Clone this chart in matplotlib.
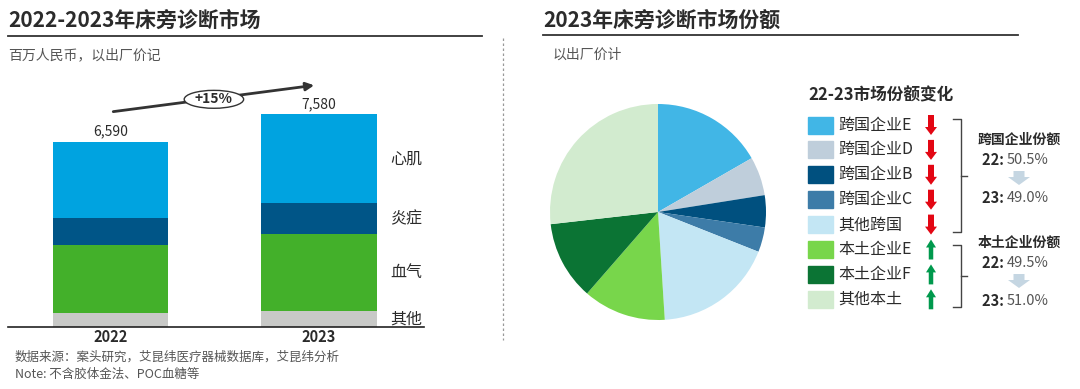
import matplotlib
matplotlib.use("Agg")
import matplotlib.pyplot as plt
from matplotlib.patches import Ellipse, Rectangle, FancyArrow

plt.rcParams['font.family'] = ['Noto Sans CJK SC', 'DejaVu Sans']

# bar chart data (million RMB)
years = ["2022", "2023"]
segments = ["其他", "血气", "炎症", "心肌"]
seg_values = {
    "其他": [500, 570],
    "血气": [2420, 2730],
    "炎症": [950, 1110],
    "心肌": [2720, 3170],
}
seg_colors = {"其他": "#C8C9C7", "血气": "#43B02A", "炎症": "#005587", "心肌": "#00A3E0"}

# pie data (2023 share, %)
companies = ["跨国企业E", "跨国企业D", "跨国企业B", "跨国企业C", "其他跨国",
             "本土企业E", "本土企业F", "其他本土"]
shares = [16.7, 5.8, 4.8, 3.7, 18.0, 12.4, 11.8, 26.8]
pie_colors = ["#41B6E6", "#BFCEDB", "#00507F", "#3D7CA8", "#C3E6F4",
              "#78D64B", "#0B7434", "#D2EBCF"]
trend = ["down"] * 5 + ["up"] * 3

mnc_share = ["50.5%", "49.0%"]
local_share = ["49.5%", "51.0%"]

DARK = "#2b2b2b"
GRAY = "#555555"

fig = plt.figure(figsize=(10.8, 3.89), dpi=100)
W, H = 1080, 389


def box(x0, y0, x1, y1):
    # pixel box (top-left origin) -> figure fraction
    return [x0 / W, 1 - y1 / H, (x1 - x0) / W, (y1 - y0) / H]


# overlay in pixel coordinates for titles and decorations
ov = fig.add_axes([0, 0, 1, 1], zorder=0)
ov.set_xlim(0, W)
ov.set_ylim(H, 0)
ov.axis("off")

# ---- left panel ----
ov.text(8, 20, "2022-2023年床旁诊断市场", fontsize=15, fontweight="bold", color=DARK, va="center")
ov.plot([8, 482], [36, 36], color="#333333", lw=1.3)
ov.text(8, 55, "百万人民币，以出厂价记", fontsize=10, color=GRAY, va="center")
ov.plot([503, 503], [38, 340], color="#999999", lw=0.9, ls=(0, (2, 2)))
ov.text(15, 357, "数据来源：案头研究，艾昆纬医疗器械数据库，艾昆纬分析", fontsize=9, color=GRAY, va="center")
ov.text(15, 374, "Note: 不含胶体金法、POC血糖等", fontsize=9, color=GRAY, va="center")

base_px, px_per_unit = 326.7, 1 / 35.7
ax = fig.add_axes(box(8, 40, 424, base_px), zorder=1)
ax.patch.set_alpha(0)
ax.set_ylim(0, (base_px - 40) / px_per_unit)
ax.set_xlim(-0.4916, 1.5036)
x = range(len(years))
bottom = [0, 0]
for s in segments:
    ax.bar(x, seg_values[s], width=0.5516, bottom=bottom, color=seg_colors[s])
    mid = bottom[1] + seg_values[s][1] / 2
    ax.text(1.34, mid, s, fontsize=11.5, color=DARK, va="center", ha="left")
    bottom = [b + v for b, v in zip(bottom, seg_values[s])]
totals = bottom
for i, t in enumerate(totals):
    ax.text(i, t + 120, f"{t:,}", ha="center", va="bottom", fontsize=10, color=DARK)

growth = totals[1] / totals[0] - 1
ax.annotate("", xy=(0.99, totals[1] + 1050), xytext=(0, totals[0] + 1075),
            arrowprops=dict(arrowstyle="-|>", color="#333333", lw=2, mutation_scale=12))
mx = 0.496
my = (totals[0] + 1075 + totals[1] + 1050) / 2 - 30
ax.add_patch(Ellipse((mx, my), 0.285, 640, facecolor="white", edgecolor="#333333", lw=1, zorder=3))
ax.text(mx, my, f"+{growth:.0%}", ha="center", va="center", fontsize=10, fontweight="bold",
        color=DARK, zorder=4)

ax.set_xticks(list(x))
ax.set_xticklabels(years, fontsize=10.5, fontweight="bold", color=DARK)
ax.tick_params(axis="x", length=0, pad=2)
ax.set_yticks([])
for sp in ["top", "left", "right"]:
    ax.spines[sp].set_visible(False)
ax.spines["bottom"].set_color("#222222")
ax.spines["bottom"].set_linewidth(1.2)

# ---- right panel ----
ov.text(543, 20, "2023年床旁诊断市场份额", fontsize=15, fontweight="bold", color=DARK, va="center")
ov.plot([543, 1018], [35, 35], color="#333333", lw=1.3)
ov.text(553, 55, "以出厂价计", fontsize=10, color=GRAY, va="center")

pax = fig.add_axes(box(550, 104, 766, 320), zorder=1)
pax.pie(shares, colors=pie_colors, startangle=90, counterclock=False, radius=1)
pax.set_xlim(-1, 1)
pax.set_ylim(-1, 1)

ov.text(808, 95, "22-23市场份额变化", fontsize=12, fontweight="bold", color=DARK, va="center")
for i, (c, col, tr) in enumerate(zip(companies, pie_colors, trend)):
    yc = 125 + i * 24.9
    ov.add_patch(Rectangle((808, yc - 8.5), 25, 17, color=col))
    ov.text(838, yc, c, fontsize=11.5, color=DARK, va="center")
    if tr == "down":
        ov.add_patch(FancyArrow(931, yc - 10, 0, 20, width=6, head_width=12, head_length=8,
                                length_includes_head=True, color="#E30613", lw=0))
    else:
        ov.add_patch(FancyArrow(931, yc + 10, 0, -20, width=4.5, head_width=10, head_length=8,
                                length_includes_head=True, color="#00994D", lw=0))

for y0, y1 in [(119, 232), (245, 307)]:
    ym = (y0 + y1) / 2
    ov.plot([953, 961, 961, 953], [y0, y0, y1, y1], color="#444444", lw=1)
    ov.plot([961, 967], [ym, ym], color="#444444", lw=1)

for y0, head, vals in [(140, "跨国企业份额", mnc_share), (243, "本土企业份额", local_share)]:
    ov.text(1019, y0, head, fontsize=10, fontweight="bold", color=DARK, ha="center", va="center")
    ov.text(1007, y0 + 20, "22: ", fontsize=10.5, fontweight="bold", color=DARK, ha="right", va="center")
    ov.text(1007, y0 + 20, vals[0], fontsize=10.5, color=GRAY, ha="left", va="center")
    ov.add_patch(FancyArrow(1019, y0 + 31, 0, 14, width=11, head_width=22, head_length=8,
                            length_includes_head=True, color="#C5D6E2", lw=0))
    ov.text(1007, y0 + 58, "23: ", fontsize=10.5, fontweight="bold", color=DARK, ha="right", va="center")
    ov.text(1007, y0 + 58, vals[1], fontsize=10.5, color=GRAY, ha="left", va="center")

fig.savefig("out.png", dpi=100)
